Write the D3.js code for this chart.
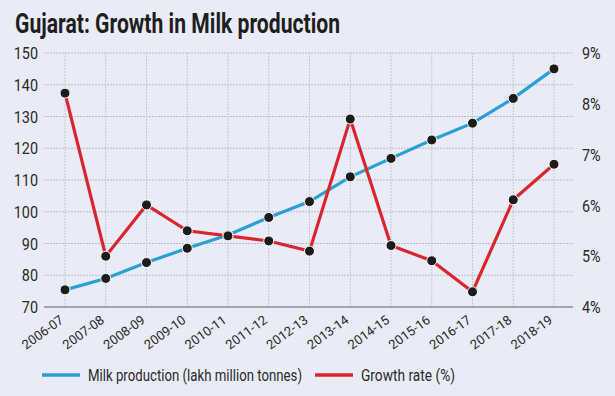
<!DOCTYPE html>
<html><head><meta charset="utf-8">
<script src="https://cdn.jsdelivr.net/npm/d3@7"></script>
<style>body{margin:0;background:#e9ecf6;}svg{display:block;}</style>
</head><body>
<svg id="c" width="615" height="396"></svg>
<script>
const categories = ["2006-07","2007-08","2008-09","2009-10","2010-11","2011-12","2012-13","2013-14","2014-15","2015-16","2016-17","2017-18","2018-19"];
const milkProduction = [75.4,79.0,84.0,88.5,92.7,98.2,103.2,111.0,116.8,122.6,127.9,135.7,145.0];
const growthRate = [8.21,5.0,6.01,5.5,5.4,5.3,5.1,7.7,5.21,4.91,4.3,6.11,6.81];
const leftTicks = [70,80,90,100,110,120,130,140,150];
const rightTicks = [4,5,6,7,8,9];
const title = "Gujarat: Growth in Milk production";
const legendLabels = ["Milk production (lakh million tonnes)","Growth rate (%)"];

const svg = d3.select("#c");
const font = "'Roboto',sans-serif";
svg.append("rect").attr("width",615).attr("height",396).attr("fill","#e9ecf6");

const x = d3.scalePoint().domain(categories).range([65,554]);
const yL = d3.scaleLinear().domain([70,150]).range([307,53]);
const yR = d3.scaleLinear().domain([4,9]).range([307,53]);
const plotL = 44, plotR = 573;

// title
svg.append("text").attr("x",15).attr("y",33).text(title)
  .attr("font-family",font).attr("font-weight","bold").attr("font-size",27)
  .attr("fill","#1e1e1e").attr("textLength",325).attr("lengthAdjust","spacingAndGlyphs");

// horizontal grid
svg.append("g").selectAll("line").data(leftTicks.slice(1)).join("line")
  .attr("x1",plotL).attr("x2",plotR).attr("y1",d=>yL(d)).attr("y2",d=>yL(d))
  .attr("stroke","#b9bcc6").attr("stroke-width",1).attr("stroke-dasharray","2,1");
// vertical grid
svg.append("g").selectAll("line").data(categories).join("line")
  .attr("x1",d=>x(d)).attr("x2",d=>x(d)).attr("y1",53).attr("y2",307)
  .attr("stroke","#c4c7d1").attr("stroke-width",1).attr("stroke-dasharray","2,1");
// baseline
svg.append("line").attr("x1",plotL).attr("x2",plotR).attr("y1",307).attr("y2",307)
  .attr("stroke","#8a8d96").attr("stroke-width",1.5);

// left axis
const gl = svg.append("g").attr("transform","translate(38,0)")
  .call(d3.axisLeft(yL).tickValues(leftTicks).tickSize(0).tickPadding(0));
gl.select(".domain").remove();
gl.selectAll("text").attr("font-family",font).attr("font-size",16).attr("fill","#2a2a2a").attr("dy","0.35em")
  .attr("transform","scale(0.9,1)").attr("x",0);
gl.selectAll(".tick").each(function(){
  const t=d3.select(this).attr("transform"); 
});

// right axis
const gr = svg.append("g").attr("transform","translate(582,0)")
  .call(d3.axisRight(yR).tickValues(rightTicks).tickSize(0).tickPadding(0).tickFormat(d=>d+"%"));
gr.select(".domain").remove();
gr.selectAll("text").attr("font-family",font).attr("font-size",16).attr("fill","#2a2a2a").attr("dy","0.35em")
  .attr("transform","scale(0.9,1)");

// x axis labels
const gx = svg.append("g").attr("transform","translate(0,314)")
  .call(d3.axisBottom(x).tickSize(0).tickPadding(0));
gx.select(".domain").remove();
gx.selectAll("text").attr("font-family",font).attr("font-size",13).attr("fill","#2a2a2a")
  .attr("text-anchor","end").attr("dy","0").attr("y",0)
  .attr("transform","translate(-1,8) rotate(-36)");

// lines
const lineL = d3.line().x((d,i)=>x(categories[i])).y(d=>yL(d));
const lineR = d3.line().x((d,i)=>x(categories[i])).y(d=>yR(d));
svg.append("path").datum(milkProduction).attr("d",lineL).attr("fill","none")
  .attr("stroke","#2a9fd3").attr("stroke-width",3.2);
svg.append("path").datum(growthRate).attr("d",lineR).attr("fill","none")
  .attr("stroke","#d9262e").attr("stroke-width",3.2);
svg.append("g").selectAll("circle").data(milkProduction).join("circle")
  .attr("cx",(d,i)=>x(categories[i])).attr("cy",d=>yL(d)).attr("r",5)
  .attr("fill","#1c1c1c").attr("stroke","#ffffff").attr("stroke-width",1);
svg.append("g").selectAll("circle").data(growthRate).join("circle")
  .attr("cx",(d,i)=>x(categories[i])).attr("cy",d=>yR(d)).attr("r",5)
  .attr("fill","#1c1c1c").attr("stroke","#ffffff").attr("stroke-width",1);

// legend
const leg = [{c:"#2a9fd3",x:42,t:legendLabels[0],tx:88,w:214},{c:"#d9262e",x:315,t:legendLabels[1],tx:361,w:94}];
leg.forEach(l=>{
  svg.append("line").attr("x1",l.x).attr("x2",l.x+38).attr("y1",375).attr("y2",375)
    .attr("stroke",l.c).attr("stroke-width",3.5);
  svg.append("text").attr("x",l.tx).attr("y",381).text(l.t)
    .attr("font-family",font).attr("font-size",17).attr("fill","#2a2a2a")
    .attr("textLength",l.w).attr("lengthAdjust","spacingAndGlyphs");
});
</script>
</body></html>
